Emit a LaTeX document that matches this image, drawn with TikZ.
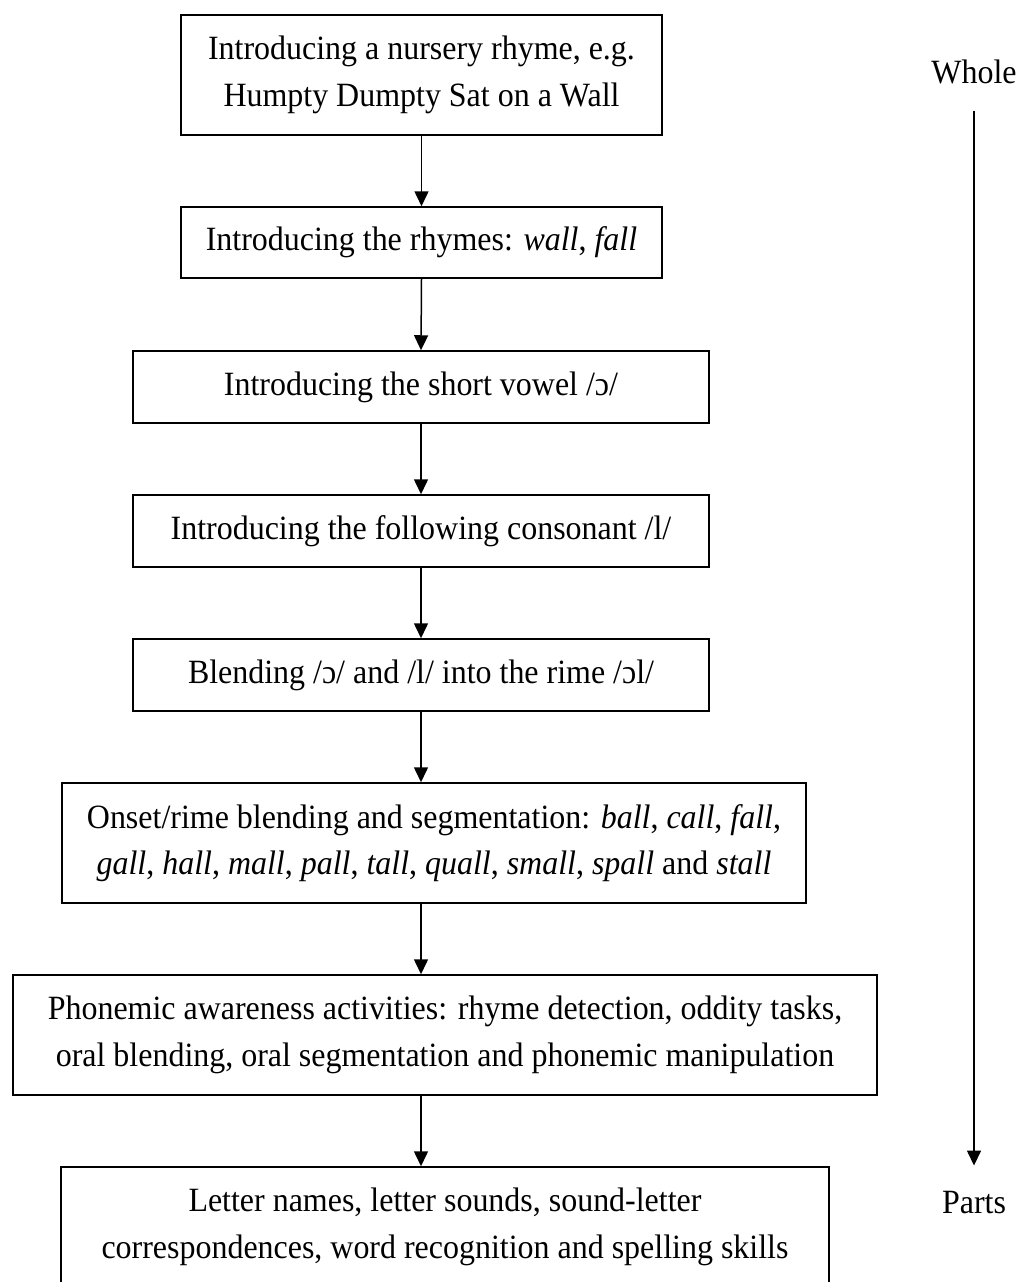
\documentclass[tikz,border=0pt]{standalone}
\usepackage{fontspec}
\setmainfont{Liberation Serif}[FakeStretch=0.94]
\usetikzlibrary{arrows.meta}
\begin{document}
\begin{tikzpicture}[x=1pt,y=-1pt,
  box/.style={draw, line width=1.5pt, inner sep=0pt, align=center, font=\fontsize{34}{46.5}\selectfont},
  lab/.style={inner sep=0pt, font=\fontsize{34}{46.5}\selectfont},
  arr/.style={line width=1.5pt, -{Triangle[width=14pt,length=15pt]}}]
\useasboundingbox (0,0) rectangle (1019,1282);
\clip (0,0) rectangle (1019,1282);
\node[box, minimum width=481pt, minimum height=120pt] (b1) at (421.5,75) {Introducing a nursery rhyme, e.g.\\Humpty Dumpty Sat on a Wall};
\node[box, minimum width=481pt, minimum height=71pt] (b2) at (421.5,242.5) {Introducing the rhymes: \textit{wall}, \textit{fall}};
\node[box, minimum width=576pt, minimum height=72pt] (b3) at (421,387) {Introducing the short vowel /ɔ/};
\node[box, minimum width=576pt, minimum height=72pt] (b4) at (421,531) {Introducing the following consonant /l/};
\node[box, minimum width=576pt, minimum height=72pt] (b5) at (421,675) {Blending /ɔ/ and /l/ into the rime /ɔl/};
\node[box, minimum width=744pt, minimum height=120pt] (b6) at (434,843) {Onset/rime blending and segmentation: \textit{ball}, \textit{call}, \textit{fall},\\\textit{gall}, \textit{hall}, \textit{mall}, \textit{pall}, \textit{tall}, \textit{quall}, \textit{small}, \textit{spall} and \textit{stall}};
\node[box, minimum width=864pt, minimum height=120pt] (b7) at (445,1035) {Phonemic awareness activities: rhyme detection, oddity tasks,\\oral blending, oral segmentation and phonemic manipulation};
\node[box, minimum width=768pt, minimum height=120pt] (b8) at (445,1227) {Letter names, letter sounds, sound-letter\\correspondences, word recognition and spelling skills};
\draw[arr] (b1.south) -- (b2.north);
\draw[arr] (b2.south) -- (b3.north);
\draw[arr] (b3.south) -- (b4.north);
\draw[arr] (b4.south) -- (b5.north);
\draw[arr] (b5.south) -- (b6.north -| b5.south);
\draw[arr] (b6.south -| b5.south) -- (b7.north -| b5.south);
\draw[arr] (b7.south -| b5.south) -- (b8.north -| b5.south);
\node[lab, anchor=base] (whole) at (974,83) {Whole};
\node[lab, anchor=base] (parts) at (974,1213) {Parts};
\draw[arr] ([yshift=-27pt]whole.south) -- ([yshift=25pt]parts.north);
\end{tikzpicture}
\end{document}
